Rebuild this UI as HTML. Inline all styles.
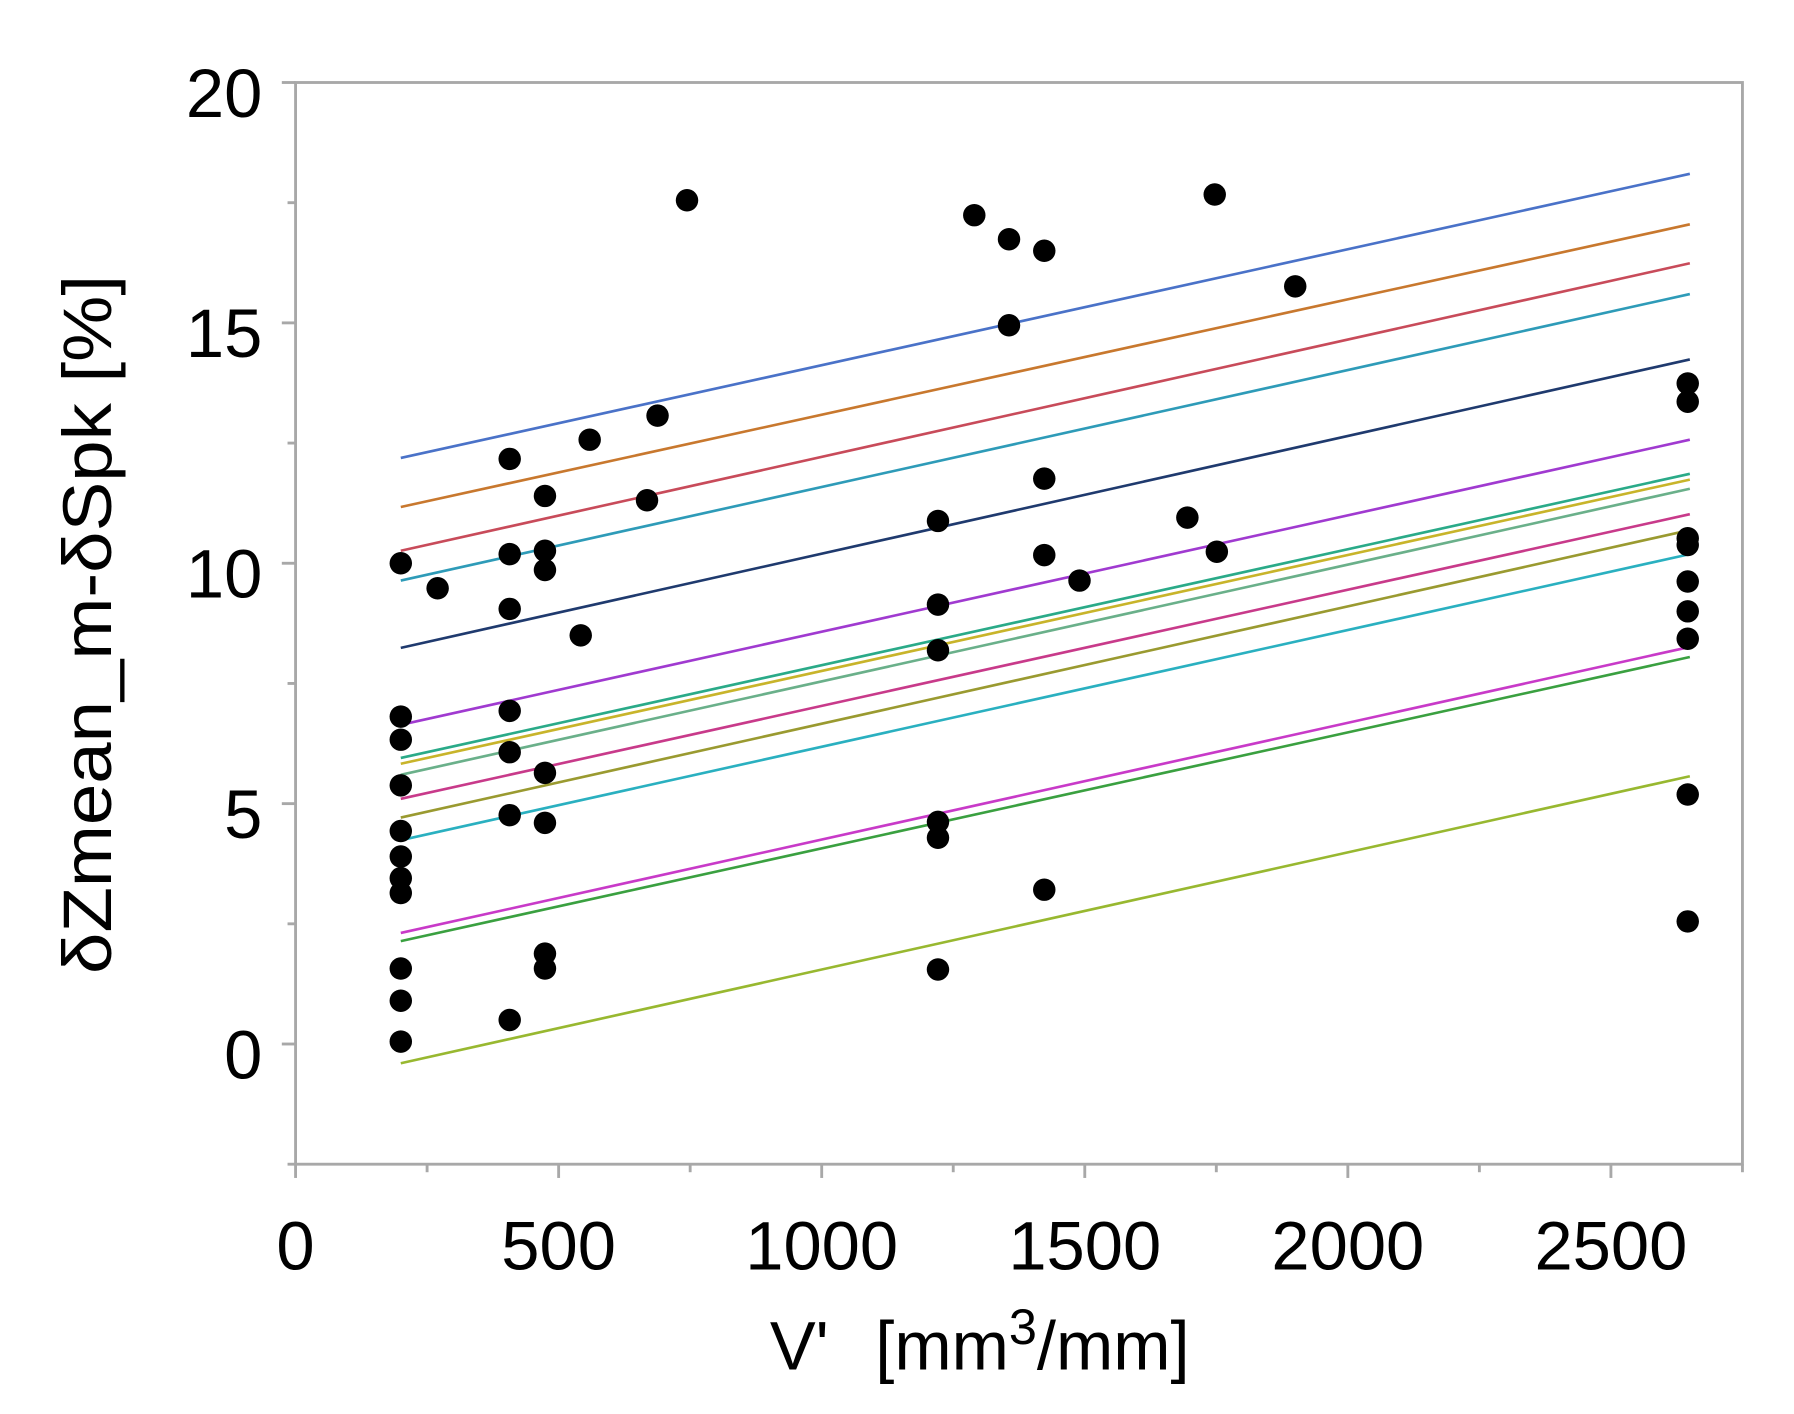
<!DOCTYPE html>
<html><head><meta charset="utf-8"><style>
html,body{margin:0;padding:0;background:#fff;}
svg{display:block;}
text{font-family:"Liberation Sans","DejaVu Sans",sans-serif;fill:#000;}
</style></head><body>
<svg id="chart" width="1794" height="1414" viewBox="0 0 1566 1234" preserveAspectRatio="none" xmlns="http://www.w3.org/2000/svg">
<g id="grid"></g><g id="lines"></g><g id="dots"></g><g id="axes"></g>
</svg>
<script>
const xTicks = [0, 500, 1000, 1500, 2000, 2500];
const xMinor = [250, 750, 1250, 1750, 2250, 2750];
const yTicks = [0, 5, 10, 15, 20];
const yMinor = [-2.5, 2.5, 7.5, 12.5, 17.5];
const lineX0 = [200, 200, 200, 200, 200, 200, 200, 200, 200, 200, 200, 200, 200, 200, 200];
const lineX1 = [2650, 2650, 2650, 2650, 2650, 2650, 2650, 2650, 2650, 2650, 2650, 2650, 2650, 2650, 2650];
const lineY0 = [12.19, 11.17, 10.26, 9.64, 8.24, 6.64, 5.95, 5.83, 5.6, 5.1, 4.71, 4.24, 2.31, 2.14, -0.4];
const lineY1 = [18.1, 17.05, 16.24, 15.6, 14.24, 12.57, 11.86, 11.74, 11.55, 11.02, 10.69, 10.19, 8.26, 8.05, 5.57];
const lineColors = ["#4a72c8","#c8782e","#c84b5a","#2e9bb8","#1f3a6e","#a03ad0","#2aaa88","#c8b42a","#6ab08a","#c83a8a","#9a9a30","#2ab0c0","#c83ac8","#3aa040","#98b830"];
const ptX = [200,270,200,200,200,200,200,200,200,200,200,200,
 407,407,407,407,407,407,407,
 474,474,474,474,474,474,474,
 542,559,668,688,744,
 1221,1221,1221,1221,1221,1221,
 1290,1356,1356,1423,1423,1423,1423,1490,1695,1747,1751,1900,
 2646,2646,2646,2646,2646,2646,2646,2646,2646];
const ptY = [10.0,9.48,6.81,6.33,5.38,4.43,3.9,3.45,3.14,1.57,0.9,0.05,
 12.17,10.19,9.05,6.93,6.07,4.76,0.5,
 11.4,10.26,9.86,5.64,4.6,1.88,1.57,
 8.5,12.57,11.31,13.07,17.55,
 10.88,9.14,8.19,4.62,4.29,1.55,
 17.24,16.74,14.95,16.5,11.76,10.17,3.21,9.64,10.95,17.67,10.24,15.76,
 13.74,13.36,10.52,10.38,9.62,9.0,8.43,5.19,2.55];

const L=258,R=1521,T=72,B=1016, xMin=0,xMax=2750,yMin=-2.5,yMax=20;
const sx=v=>L+(v-xMin)/(xMax-xMin)*(R-L);
const sy=v=>B-(v-yMin)/(yMax-yMin)*(B-T);
const NS="http://www.w3.org/2000/svg";
function mk(tag,attrs,parent){const e=document.createElementNS(NS,tag);for(const k in attrs)e.setAttribute(k,attrs[k]);parent.appendChild(e);return e;}
const gl=document.getElementById('lines'),gd=document.getElementById('dots'),ga=document.getElementById('axes');

for(let i=0;i<lineY0.length;i++){
 const l=mk('line',{x1:sx(lineX0[i]),y1:sy(lineY0[i]),x2:sx(lineX1[i]),y2:sy(lineY1[i]),stroke:lineColors[i],'stroke-width':2.3},gl);
 
 
}
for(let i=0;i<ptX.length;i++){
 const c=mk('circle',{cx:sx(ptX[i]),cy:sy(ptY[i]),r:9.8,fill:'#000'},gd);
 
 
}
const frame=mk('rect',{x:L,y:T,width:R-L,height:B-T,fill:'none',stroke:'#a8a8a8','stroke-width':2.5},ga);


xTicks.forEach(v=>{
 const t=mk('line',{x1:sx(v),y1:B,x2:sx(v),y2:B+12,stroke:'#a8a8a8','stroke-width':2.5},ga);
 
 
 const tx=mk('text',{x:sx(v),y:1108,'text-anchor':'middle','font-size':60},ga);
 tx.textContent=v;
 
 
});
xMinor.forEach(v=>{
 const t=mk('line',{x1:sx(v),y1:B,x2:sx(v),y2:B+7,stroke:'#a8a8a8','stroke-width':2.5},ga);
 
 
});
yTicks.forEach(v=>{
 const t=mk('line',{x1:L-12,y1:sy(v),x2:L,y2:sy(v),stroke:'#a8a8a8','stroke-width':2.5},ga);
 
 
 const tx=mk('text',{x:229,y:sy(v)+30,'text-anchor':'end','font-size':60},ga);
 tx.textContent=v;
 
 
});
yMinor.forEach(v=>{
 const t=mk('line',{x1:L-7,y1:sy(v),x2:L,y2:sy(v),stroke:'#a8a8a8','stroke-width':2.5},ga);
 
 
});
const xt=mk('text',{x:672,y:1195,'font-size':60},ga);
xt.setAttribute('xml:space','preserve');
xt.innerHTML='<tspan>V\'</tspan><tspan x="764">[mm</tspan><tspan dy="-22" font-size="44">3</tspan><tspan dy="22">/mm]</tspan>';


const yt=mk('text',{x:0,y:0,'text-anchor':'middle','font-size':60,textLength:610,lengthAdjust:'spacingAndGlyphs',transform:'translate(97,545) rotate(-90)'},ga);
yt.textContent='δZmean_m-δSpk [%]';


</script>
</body></html>
